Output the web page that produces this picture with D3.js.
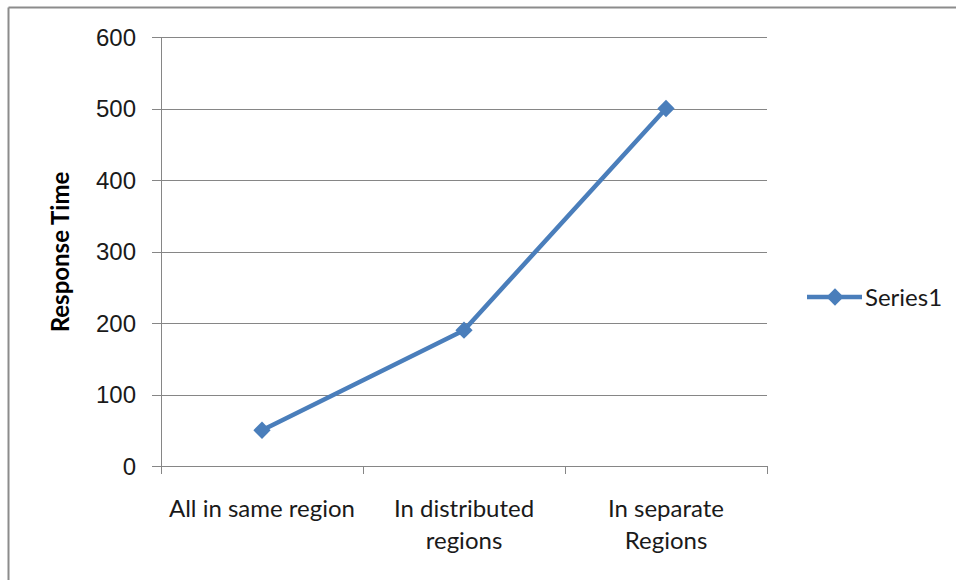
<!DOCTYPE html>
<html>
<head>
<meta charset="utf-8">
<script src="https://cdn.jsdelivr.net/npm/d3@7"></script>
<style>
  html, body { margin: 0; padding: 0; background: #fff; }
  svg { display: block; font-family: Lato, "Open Sans", sans-serif; }
</style>
</head>
<body>
<svg id="chart" width="956" height="580"></svg>
<script>
// Response time by deployment layout
const categories = [["All in same region"], ["In distributed", "regions"], ["In separate", "Regions"]];
const series1 = [50, 190, 500];
const yTicks = [0, 100, 200, 300, 400, 500, 600];
const seriesName = "Series1";
const yTitle = "Response Time";

const svg = d3.select("#chart");
const plot = { left: 161, right: 767, top: 37, bottom: 466 };
const gridColor = "#868686";
const lineColor = "#4a7ebb";
const textColor = "#1a1a1a";

// outer frame (top and left edges only visible)
svg.append("line").attr("x1", 8.5).attr("x2", 956).attr("y1", 7.5).attr("y2", 7.5)
  .attr("stroke", "#8c8c8c").attr("stroke-width", 2);
svg.append("line").attr("x1", 8.5).attr("x2", 8.5).attr("y1", 7.5).attr("y2", 580)
  .attr("stroke", "#8c8c8c").attr("stroke-width", 2);

const x = d3.scaleBand().domain(d3.range(categories.length))
  .range([plot.left, plot.right]).paddingInner(0).paddingOuter(0);
const y = d3.scaleLinear().domain([0, 600]).range([plot.bottom, plot.top]);

// horizontal gridlines with left tick marks
const span = plot.right - plot.left + 9;
const yAxis = d3.axisLeft(y).tickValues(yTicks).tickSize(span)
  .tickPadding(17).tickFormat(d3.format("d"));
const gy = svg.append("g").attr("transform", `translate(${plot.right},0)`).call(yAxis);
gy.select(".domain").remove();
gy.selectAll(".tick line").attr("stroke", gridColor).attr("stroke-width", 1)
  .attr("shape-rendering", "crispEdges");
gy.selectAll(".tick text").attr("font-size", 24).attr("fill", textColor)
  .attr("x", -span - 16).attr("dy", "0.34em");

// vertical axis line
svg.append("line").attr("x1", plot.left).attr("x2", plot.left)
  .attr("y1", plot.top).attr("y2", plot.bottom)
  .attr("stroke", gridColor).attr("shape-rendering", "crispEdges");

// category boundary ticks
const boundaries = d3.range(categories.length + 1).map(i =>
  i < categories.length ? x(i) : x(categories.length - 1) + x.bandwidth());
svg.append("g").selectAll("line").data(boundaries).join("line")
  .attr("x1", d => d).attr("x2", d => d)
  .attr("y1", plot.bottom).attr("y2", plot.bottom + 8)
  .attr("stroke", gridColor).attr("shape-rendering", "crispEdges");

// category labels
const cat = svg.append("g").selectAll("text").data(categories).join("text")
  .attr("text-anchor", "middle").attr("font-size", 24).attr("fill", textColor)
  .attr("transform", (d, i) => `translate(${x(i) + x.bandwidth() / 2},517)`);
cat.selectAll("tspan").data(d => d).join("tspan")
  .attr("x", 0).attr("dy", (d, i) => i === 0 ? 0 : 32).text(d => d);

// axis title
svg.append("text").attr("transform", "translate(69,252) rotate(-90)")
  .attr("text-anchor", "middle").attr("font-size", 24).attr("font-weight", "bold")
  .attr("fill", "#000").text(yTitle);

// series line
const cx = i => x(i) + x.bandwidth() / 2;
const line = d3.line().x((d, i) => cx(i)).y(d => y(d));
svg.append("path").datum(series1).attr("d", line)
  .attr("fill", "none").attr("stroke", lineColor).attr("stroke-width", 4.5)
  .attr("stroke-linejoin", "round");

const diamond = d3.symbol().type(d3.symbolDiamond2).size(190);
svg.append("g").selectAll("path").data(series1).join("path")
  .attr("d", diamond).attr("fill", lineColor)
  .attr("transform", (d, i) => `translate(${cx(i)},${y(d)})`);

// legend
const lg = svg.append("g").attr("transform", "translate(807,297)");
lg.append("line").attr("x1", 0).attr("x2", 55).attr("y1", 0).attr("y2", 0)
  .attr("stroke", lineColor).attr("stroke-width", 4.5);
lg.append("path").attr("d", diamond).attr("fill", lineColor).attr("transform", "translate(28,0)");
lg.append("text").attr("x", 58).attr("y", 9).attr("font-size", 24).attr("fill", textColor)
  .text(seriesName);
</script>
</body>
</html>
